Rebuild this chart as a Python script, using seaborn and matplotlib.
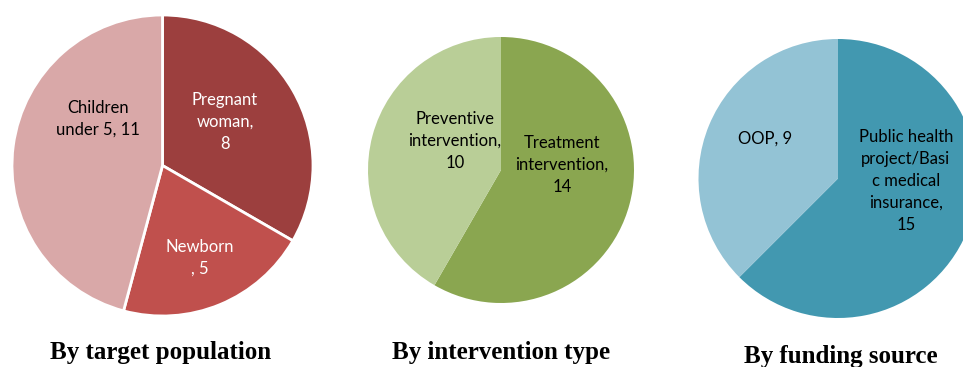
import matplotlib
matplotlib.use("Agg")
import matplotlib.pyplot as plt
import seaborn as sns

sns.set_theme(style="white")
plt.rcParams['font.family'] = ['Lato', 'DejaVu Sans']

# Data
pop_labels = ["Pregnant\nwoman,\n8", "Newborn\n, 5", "Children\nunder 5, 11"]
pop_values = [8, 5, 11]
pop_colors = ["#9C3F3E", "#C0504D", "#D9A8A8"]
pop_text_colors = ["white", "white", "black"]

int_labels = ["Treatment\nintervention,\n14", "Preventive\nintervention,\n10"]
int_values = [14, 10]
int_colors = ["#8AA650", "#B9CE97"]
int_text_colors = ["black", "black"]

fund_labels = ["Public health\nproject/Basi\nc medical\ninsurance,\n15", "OOP, 9"]
fund_values = [15, 9]
fund_colors = ["#4298B0", "#93C3D5"]
fund_text_colors = ["black", "black"]

titles = ["By target population", "By intervention type", "By funding source"]

W, H = 963, 367
fig = plt.figure(figsize=(W / 100, H / 100), dpi=100)

def add_pie_axes(cx, cy, r):
    return fig.add_axes([(cx - r) / W, (H - cy - r) / H, 2 * r / W, 2 * r / H])

# label placements (x, y) in pie units (radius = 1)
pop_pos = [(0.415, 0.289), (0.249, -0.615), (-0.429, 0.309)]
int_pos = [(0.459, 0.038), (-0.346, 0.218)]
fund_pos = [(0.487, -0.018), (-0.523, 0.283)]

specs = [
    (162.5, 165.5, 150.5, pop_values, pop_colors, pop_labels, pop_text_colors, pop_pos, True, titles[0], 161, 353),
    (501, 170, 133, int_values, int_colors, int_labels, int_text_colors, int_pos, False, titles[1], 501, 352),
    (838, 178.5, 139.5, fund_values, fund_colors, fund_labels, fund_text_colors, fund_pos, False, titles[2], 840.5, 356.5),
]

for cx, cy, r, vals, cols, labs, tcols, pos, edge, title, tx, ty in specs:
    ax = add_pie_axes(cx, cy, r)
    wp = dict(edgecolor="white", linewidth=2) if edge else dict(edgecolor="none", linewidth=0)
    ax.pie(vals, colors=cols, startangle=90, counterclock=False, wedgeprops=wp,
           radius=1.0, frame=False)
    ax.set_xlim(-1, 1)
    ax.set_ylim(-1, 1)
    ax.set_aspect("equal")
    ax.axis("off")
    for lab, tc, (x, y) in zip(labs, tcols, pos):
        ax.text(x, y, lab, ha="center", va="center", color=tc, fontsize=12,
                linespacing=1.45)
    fig.text(tx / W, 1 - ty / H, title, ha="center", va="center",
             family="Liberation Serif", fontweight="bold", fontsize=18, color="black")

fig.savefig("out.png", dpi=100, facecolor="white")
